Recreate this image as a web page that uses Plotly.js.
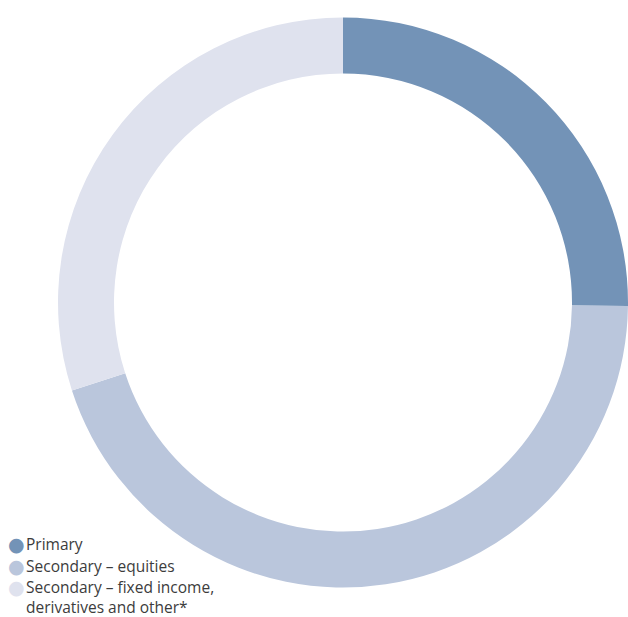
<!DOCTYPE html>
<html>
<head>
<meta charset="utf-8">
<script src="https://cdn.plot.ly/plotly-3.0.1.min.js"></script>
<style>html,body{margin:0;padding:0;background:#fff;}#chart{width:628px;height:617px;}</style>
</head>
<body>
<div id="chart"></div>
<script>
const categories = ["Primary", "Secondary – equities", "Secondary – fixed income,<br>derivatives and other*"];
const values = [25.2, 44.8, 30.0];
const colors = ["#7393b7", "#bac6dc", "#dfe2ee"];

const W = 628, H = 617;
const cx = 343, cy = 302.5, R = 285;
const legendTop = [544, 565.5, 597];

const annotations = [];
categories.forEach((c, i) => {
  annotations.push({
    xref: 'paper', yref: 'paper', x: 7 / W, y: 1 - (i === 2 ? 587 : legendTop[i]) / H,
    xanchor: 'left', yanchor: 'middle', showarrow: false, borderpad: 0,
    text: '●', font: {family: 'DejaVu Sans', size: 19, color: colors[i]}
  });
  annotations.push({
    xref: 'paper', yref: 'paper', x: 25 / W, y: 1 - legendTop[i] / H,
    xanchor: 'left', yanchor: 'middle', align: 'left', showarrow: false, borderpad: 0,
    text: c, font: {family: 'Open Sans', size: 15.5, color: '#3c3c3c'}
  });
});

const data = [{
  type: 'pie',
  labels: categories,
  values: values,
  marker: {colors: colors, line: {width: 0}},
  hole: 229 / R,
  sort: false,
  direction: 'clockwise',
  rotation: 0,
  textinfo: 'none',
  hoverinfo: 'label+percent',
  showlegend: false,
  domain: {x: [(cx - R) / W, (cx + R) / W], y: [(H - cy - R) / H, (H - cy + R) / H]}
}];

const layout = {
  width: W, height: H,
  margin: {l: 0, r: 0, t: 0, b: 0},
  paper_bgcolor: '#ffffff',
  showlegend: false,
  annotations: annotations
};

Plotly.newPlot('chart', data, layout, {displayModeBar: false, staticPlot: true});
</script>
</body>
</html>
